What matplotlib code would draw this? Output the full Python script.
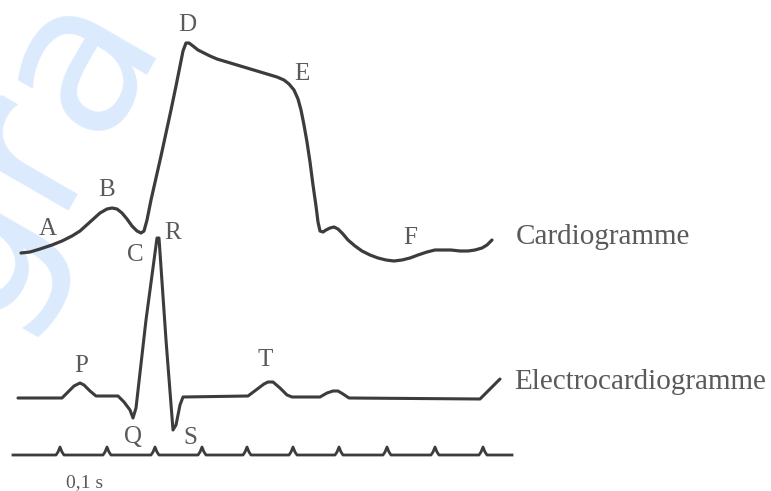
import matplotlib
matplotlib.use("Agg")
import matplotlib.pyplot as plt

# Cardiogram trace (x in ms-like pixel units, y as drawn, top = 0)
cardio_x = [21, 30, 40, 52, 62, 72, 80, 90, 100, 107, 112, 117, 122, 127, 132, 137, 141, 144,
            147, 151, 156, 161, 166, 171, 176, 180, 183, 186, 189, 193, 198, 204, 210, 217,
            227, 237, 247, 257, 267, 277, 284, 289, 294, 298, 301, 304, 307, 310, 313, 316,
            318, 320, 323, 326, 330, 334, 338, 343, 348, 355, 362, 370, 378, 386, 394, 402,
            410, 418, 427, 435, 443, 451, 460, 468, 475, 482, 487, 492]
cardio_y = [253, 252, 249, 245, 241, 236, 231, 222, 213, 209, 208, 209, 213, 219, 226, 231, 233, 231,
            220, 200, 178, 156, 133, 110, 86, 66, 51, 43, 43, 46, 50, 53, 56, 59,
            62, 65, 68, 71, 74, 77, 80, 84, 90, 99, 110, 125, 142, 162, 185, 206,
            222, 231, 232, 230, 228, 227, 229, 234, 240, 246, 251, 255, 258, 260, 261, 260,
            258, 255, 252, 250, 250, 250, 251, 251, 250, 248, 245, 240]

# Electrocardiogram trace
ecg_x = [18, 62, 68, 74, 80, 84, 90, 96, 118, 124, 130, 133, 136, 146, 157, 159, 166, 173, 176,
         180, 183, 248, 256, 264, 268, 273, 280, 287, 292, 320, 327, 333, 338, 343, 349,
         480, 490, 500]
ecg_y = [398, 398, 392, 386, 383, 385, 391, 396, 396, 402, 410, 418, 408, 320, 238, 238, 340, 430, 425,
         405, 397, 396, 390, 384, 382, 382, 388, 395, 397, 397, 393, 391, 391, 394, 398,
         399, 389, 379]

# Time marker line with 0.1 s ticks
time_ticks = [60, 107, 155, 202, 247, 293, 339, 387, 435, 483]
time_start, time_end, time_base = 13, 512, 455

cardio_letters = ["A", "B", "C", "D", "E", "F"]
cardio_letter_pos = [(48, 229), (107, 190), (135, 255), (187, 25), (302, 74), (410, 238)]
ecg_letters = ["P", "Q", "R", "S", "T"]
ecg_letter_pos = [(81, 366), (133, 437), (173, 233), (190, 438), (265, 360)]

ink = "#3c3c3c"
txt = "#5a5a5a"
serif = ["Liberation Serif", "DejaVu Serif"]

fig = plt.figure(figsize=(7.71, 4.91), dpi=100)
ax = fig.add_axes([0, 0, 1, 1])
ax.set_xlim(0, 771)
ax.set_ylim(491, 0)
ax.axis("off")

# faint watermark
ax.text(-12, 330, "gra", rotation=60, rotation_mode="anchor", fontsize=150,
        color="#dbeafc", family=["DejaVu Sans"], ha="left", va="baseline", zorder=0)

ax.plot(cardio_x, cardio_y, color=ink, lw=2.3, solid_joinstyle="round", solid_capstyle="round", zorder=3)
ax.plot(ecg_x, ecg_y, color=ink, lw=2.2, solid_joinstyle="round", solid_capstyle="round", zorder=3)

# time line
tx = [time_start]
ty = [time_base]
for t in time_ticks:
    tx += [t - 4, t - 2, t, t + 2, t + 4]
    ty += [time_base, time_base - 3, time_base - 8, time_base - 3, time_base]
tx.append(time_end)
ty.append(time_base)
ax.plot(tx, ty, color=ink, lw=2.0, solid_joinstyle="round", zorder=3)

for lab, (x, y) in zip(cardio_letters, cardio_letter_pos):
    ax.text(x, y, lab, fontsize=18, color=txt, family=serif, ha="center", va="center", zorder=4)
for lab, (x, y) in zip(ecg_letters, ecg_letter_pos):
    ax.text(x, y, lab, fontsize=18, color=txt, family=serif, ha="center", va="center", zorder=4)

ax.text(516, 237, "Cardiogramme", fontsize=21, color=txt, family=serif, ha="left", va="center", zorder=4)
ax.text(514, 382, "Electrocardiogramme", fontsize=21, color=txt, family=serif, ha="left", va="center", zorder=4)
ax.text(85, 483, "0,1 s", fontsize=14, color=txt, family=serif, ha="center", va="center", zorder=4)

fig.savefig("out.png", dpi=100)
